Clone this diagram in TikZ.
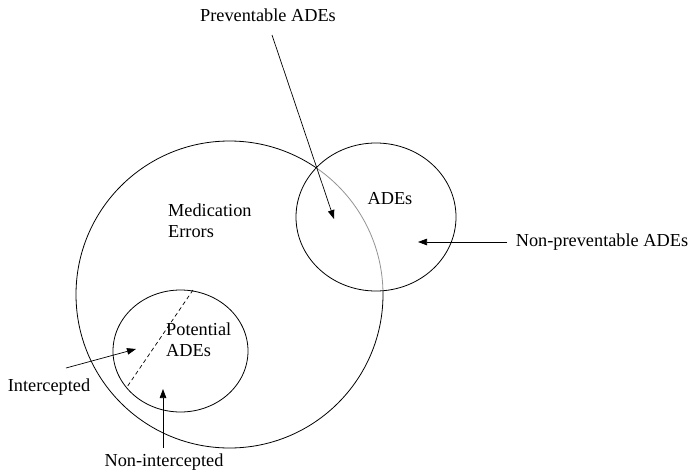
\documentclass[tikz,border=0pt]{standalone}
\usepackage{fontspec}
\setmainfont{Liberation Serif}
\usetikzlibrary{arrows.meta,shapes.geometric}
\begin{document}
\begin{tikzpicture}[x=1pt,y=-1pt,
  lbl/.style={inner sep=0pt,font=\fontsize{18.3}{21}\selectfont},
  setshape/.style={ellipse,draw=black,line width=0.8pt,inner sep=0pt},
  arr/.style={line width=0.7pt,-{Triangle[length=9pt,width=6.5pt]}}]
\useasboundingbox (0,0) rectangle (693,474);
% Medication errors circle (drawn in two parts)
\node[circle,inner sep=0pt,minimum size=307pt] (ME) at (229.5,294.5) {};
\draw[line width=0.8pt] (ME.center) circle[radius=153.5pt];
% ADEs ellipse
\node[ellipse,inner sep=0pt,minimum width=160pt,minimum height=148pt] (ADE) at (376,217) {};
\begin{scope}
  \clip (ADE.center) ellipse[x radius=80pt,y radius=74pt];
  \draw[white,line width=2.5pt] (ME.center) circle[radius=153.5pt];
  \draw[gray!85,line width=0.8pt] (ME.center) circle[radius=153.5pt];
\end{scope}
\draw[line width=0.8pt] (ADE.center) ellipse[x radius=80pt,y radius=74pt];
% Potential ADEs ellipse
\node[setshape,minimum width=135pt,minimum height=122pt] (POT) at (180.5,351) {};
\coordinate (d1) at (193,290);
\coordinate (d2) at (127,387);
\draw[dashed,line width=0.7pt,dash pattern=on 4pt off 3pt] (d1) -- (d2);
% texts
\node[lbl,anchor=west,align=left] (metxt) at (168,221) {Medication\\Errors};
\node[lbl] (adetxt) at (390,199) {ADEs};
\node[lbl,anchor=west,align=left] (pottxt) at (166,340) {Potential\\ADEs};
\node[lbl] (prev) at (268,15) {Preventable ADEs};
\node[lbl] (nonprev) at (602,242) {Non-preventable ADEs};
\node[lbl] (inter) at (49,387) {Intercepted};
\node[lbl] (noninter) at (164,462) {Non-intercepted};
% arrow ends
\coordinate (p0) at (272,35);
\coordinate (p1) at (334,219);
\coordinate (n0) at (507,242);
\coordinate (n1) at (418,242);
\coordinate (i0) at (66,368);
\coordinate (i1) at (136,349);
\coordinate (u0) at (163,448);
\coordinate (u1) at (163,389);
\draw[arr] (p0) -- (p1);
\draw[arr] (n0) -- (n1);
\draw[arr] (i0) -- (i1);
\draw[arr] (u0) -- (u1);
\end{tikzpicture}
\end{document}
